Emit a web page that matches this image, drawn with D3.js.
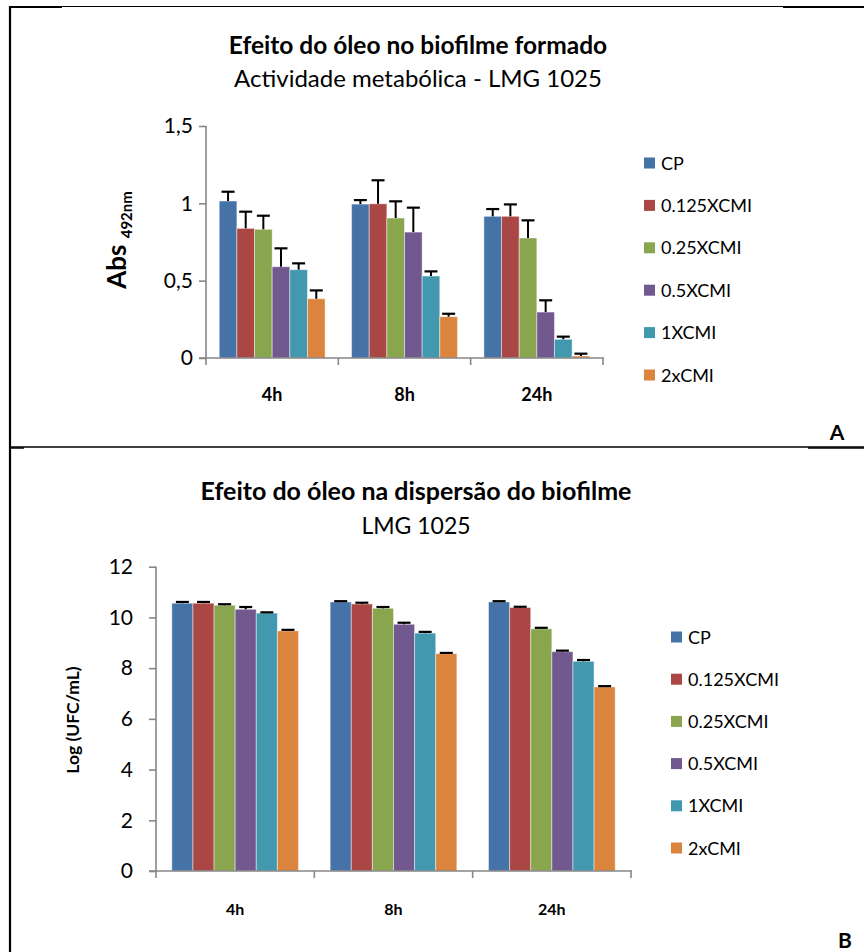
<!DOCTYPE html>
<html>
<head>
<meta charset="utf-8">
<script src="https://cdn.jsdelivr.net/npm/d3@7"></script>
<style>
  body { margin: 0; background: #fff; }
  svg { display: block; font-family: Lato, "Open Sans", sans-serif; }
</style>
</head>
<body>
<svg id="fig" width="864" height="952"></svg>
<script>
// Time points and treatments
const categories = ["4h", "8h", "24h"];
const series = ["CP", "0.125XCMI", "0.25XCMI", "0.5XCMI", "1XCMI", "2xCMI"];
const colors = ["#4572A7", "#AA4643", "#89A54E", "#71588F", "#4198AF", "#DB843D"];

// Panel A: metabolic activity (Abs 492nm), rows = series, columns = time points
const absMean = [
  [1.015, 0.995, 0.916],
  [0.838, 0.997, 0.916],
  [0.832, 0.905, 0.776],
  [0.590, 0.814, 0.297],
  [0.571, 0.530, 0.121],
  [0.383, 0.267, 0.013]
];
const absErr = [
  [0.060, 0.026, 0.047],
  [0.108, 0.152, 0.077],
  [0.088, 0.108, 0.114],
  [0.119, 0.158, 0.076],
  [0.041, 0.030, 0.017],
  [0.054, 0.019, 0.015]
];
const absTicks = [0, 0.5, 1, 1.5];
const absTickLabels = ["0", "0,5", "1", "1,5"];

// Panel B: dispersion, Log (UFC/mL)
const logMean = [
  [10.56, 10.61, 10.61],
  [10.56, 10.53, 10.39],
  [10.48, 10.36, 9.55],
  [10.32, 9.73, 8.65],
  [10.17, 9.38, 8.27],
  [9.47, 8.57, 7.26]
];
const logErr = [
  [0.05, 0.03, 0.03],
  [0.05, 0.05, 0.03],
  [0.04, 0.05, 0.04],
  [0.09, 0.06, 0.04],
  [0.03, 0.05, 0.05],
  [0.04, 0.03, 0.03]
];
const logTicks = [0, 2, 4, 6, 8, 10, 12];

const svg = d3.select("#fig");
const axisColor = "#868686";

// Frame lines of the table holding both panels
const frame = svg.append("g").attr("stroke", "#000").attr("fill", "none");
frame.append("line").attr("x1", 10).attr("x2", 10).attr("y1", 6).attr("y2", 952).attr("stroke-width", 2.2);
frame.append("line").attr("x1", 9).attr("x2", 864).attr("y1", 6.5).attr("y2", 6.5).attr("stroke-width", 1.2);
frame.append("line").attr("x1", 9).attr("x2", 62).attr("y1", 7).attr("y2", 7).attr("stroke-width", 2);
frame.append("line").attr("x1", 783).attr("x2", 864).attr("y1", 7).attr("y2", 7).attr("stroke-width", 2);
frame.append("line").attr("x1", 10).attr("x2", 864).attr("y1", 447).attr("y2", 447).attr("stroke-width", 1.3);
frame.append("line").attr("x1", 10).attr("x2", 24).attr("y1", 448).attr("y2", 448).attr("stroke-width", 1.5);
frame.append("line").attr("x1", 808).attr("x2", 864).attr("y1", 448).attr("y2", 448).attr("stroke-width", 1.5);

function drawPanel(cfg) {
  const g = svg.append("g");
  const x0 = d3.scaleBand().domain(categories).range([cfg.x0, cfg.x1]).padding(0);
  const x1 = d3.scaleBand().domain(series)
    .range([x0.bandwidth() * 0.1, x0.bandwidth() * 0.9]).padding(0);
  const y = d3.scaleLinear().domain(cfg.domain).range([cfg.yBottom, cfg.yTop]);

  // Titles
  g.append("text").attr("x", cfg.titleX).attr("y", cfg.titleY)
    .attr("text-anchor", "middle").attr("font-weight", "bold")
    .attr("font-size", cfg.titleSize).text(cfg.title);
  g.append("text").attr("x", cfg.titleX).attr("y", cfg.subY)
    .attr("text-anchor", "middle").attr("font-size", cfg.subSize).text(cfg.subtitle);

  // Bars
  series.forEach((s, i) => {
    categories.forEach((c, j) => {
      const v = cfg.mean[i][j];
      const bx = x0(c) + x1(s);
      g.append("rect")
        .attr("x", bx).attr("y", y(v))
        .attr("width", x1.bandwidth()).attr("height", y(0) - y(v))
        .attr("fill", colors[i])
        .attr("stroke", "#fff").attr("stroke-opacity", 0.45).attr("stroke-width", 1);
    });
  });

  // Upper error bars
  series.forEach((s, i) => {
    categories.forEach((c, j) => {
      const v = cfg.mean[i][j], e = cfg.err[i][j];
      const cx = x0(c) + x1(s) + x1.bandwidth() / 2;
      g.append("line").attr("x1", cx).attr("x2", cx)
        .attr("y1", y(v)).attr("y2", y(v + e))
        .attr("stroke", "#000").attr("stroke-width", 2);
      g.append("line").attr("x1", cx - cfg.cap / 2).attr("x2", cx + cfg.cap / 2)
        .attr("y1", y(v + e)).attr("y2", y(v + e))
        .attr("stroke", "#000").attr("stroke-width", 2.2);
    });
  });

  // Y axis
  const yAxis = d3.axisLeft(y).tickValues(cfg.ticks).tickSize(7).tickPadding(cfg.tickPad)
    .tickFormat((d, k) => cfg.tickLabels ? cfg.tickLabels[k] : d);
  const ya = g.append("g").attr("transform", `translate(${cfg.x0},0)`).call(yAxis);
  ya.select(".domain").attr("stroke", axisColor).attr("stroke-width", 1.6)
    .attr("d", `M0,${cfg.yTop}V${cfg.yBottom}`);
  ya.selectAll(".tick line").attr("stroke", axisColor).attr("stroke-width", 1.6);
  ya.selectAll(".tick text").attr("font-size", 21).attr("fill", "#000")
    .attr("font-family", "Lato, sans-serif");

  // X axis with tick marks at category boundaries
  const xa = g.append("g");
  xa.append("line").attr("x1", cfg.x0 - 7).attr("x2", cfg.x1 + 1)
    .attr("y1", y(0)).attr("y2", y(0)).attr("stroke", axisColor).attr("stroke-width", 1.6);
  const bounds = categories.map(c => x0(c)).concat([cfg.x1]);
  bounds.forEach(bx => {
    xa.append("line").attr("x1", bx).attr("x2", bx).attr("y1", y(0)).attr("y2", y(0) + 7)
      .attr("stroke", axisColor).attr("stroke-width", 1.6);
  });
  categories.forEach(c => {
    xa.append("text").attr("x", x0(c) + x0.bandwidth() / 2).attr("y", cfg.catY)
      .attr("text-anchor", "middle").attr("font-weight", "bold")
      .attr("font-size", cfg.catSize).text(c);
  });

  // Y axis title
  const yt = g.append("text")
    .attr("transform", `translate(${cfg.yTitleX},${cfg.yTitleY}) rotate(-90)`)
    .attr("text-anchor", "middle").attr("font-weight", "bold");
  cfg.yTitle(yt);

  // Legend
  series.forEach((s, i) => {
    const ly = cfg.legY + i * cfg.legStep;
    g.append("rect").attr("x", cfg.legX).attr("y", ly - 5.5)
      .attr("width", 11).attr("height", 11).attr("fill", colors[i]);
    g.append("text").attr("x", cfg.legX + 17).attr("y", ly + 6.5)
      .attr("font-size", 18).text(s);
  });

  // Panel letter
  g.append("text").attr("x", cfg.letterX).attr("y", cfg.letterY)
    .attr("text-anchor", "middle").attr("font-weight", "bold")
    .attr("font-size", 21).text(cfg.letter);
}

drawPanel({
  title: "Efeito do óleo no biofilme formado",
  subtitle: "Actividade metabólica - LMG 1025",
  titleX: 418, titleY: 54, subY: 87, titleSize: 24.5, subSize: 24,
  x0: 206, x1: 603, yTop: 126, yBottom: 358, domain: [0, 1.5],
  mean: absMean, err: absErr, ticks: absTicks, tickLabels: absTickLabels, tickPad: 6,
  cap: 13, catY: 401, catSize: 18,
  yTitleX: 126, yTitleY: 240,
  yTitle: t => {
    t.append("tspan").attr("font-size", 26).text("Abs ");
    t.append("tspan").attr("font-size", 15).attr("dy", 6).text("492nm");
  },
  legX: 644, legY: 163, legStep: 42.4,
  letter: "A", letterX: 837, letterY: 440
});

drawPanel({
  title: "Efeito do óleo na dispersão do biofilme",
  subtitle: "LMG 1025",
  titleX: 416, titleY: 500, subY: 534, titleSize: 25, subSize: 23,
  x0: 156, x1: 631, yTop: 566.7, yBottom: 871, domain: [0, 12],
  mean: logMean, err: logErr, ticks: logTicks, tickLabels: null, tickPad: 16,
  cap: 13, catY: 915, catSize: 16,
  yTitleX: 79, yTitleY: 720,
  yTitle: t => { t.attr("font-size", 17.5).text("Log (UFC/mL)"); },
  legX: 671, legY: 637, legStep: 42.2,
  letter: "B", letterX: 845, letterY: 948
});
</script>
</body>
</html>
